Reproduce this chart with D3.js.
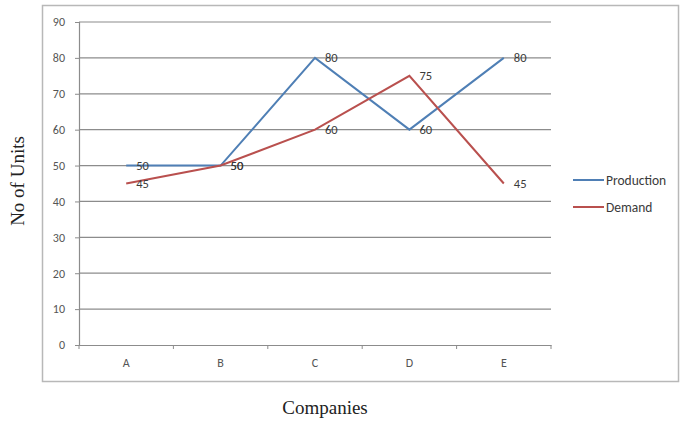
<!DOCTYPE html>
<html lang="en">
<head>
	<meta charset="UTF-8"/>
	<title>Production vs Demand</title>
	<script src="https://d3js.org/d3.v7.min.js"></script>
	<style>
		body { margin: 0; background: #fff; }
		text { font-family: Calibri, Carlito, "Open Sans", sans-serif; }
	</style>
</head>
<body>
	<script>
		var w = 680;
		var h = 423;

		// chart data
		var companies = ["A", "B", "C", "D", "E"];
		var production = [50, 50, 80, 60, 80];
		var demand = [45, 50, 60, 75, 45];
		var yTicks = [0, 10, 20, 30, 40, 50, 60, 70, 80, 90];
		var seriesNames = ["Production", "Demand"];
		var seriesColors = ["#4f7fb5", "#b9504e"];

		// plot area (note: "top" is a reserved window global)
		var plotLeft = 79, plotRight = 551, plotTop = 22, plotBottom = 345;

		var xScale = d3.scaleBand()
			.domain(companies)
			.range([plotLeft, plotRight]);

		var yScale = d3.scaleLinear()
			.domain([0, 90])
			.range([plotBottom, plotTop]);

		var svg = d3.select("body")
			.append("svg")
			.attr("width", w)
			.attr("height", h);

		// outer chart frame
		svg.append("rect")
			.attr("x", 42.5)
			.attr("y", 5.5)
			.attr("width", 636)
			.attr("height", 376)
			.attr("fill", "#fff")
			.attr("stroke", "#b8b8b8")
			.attr("stroke-width", 1.5);

		// gridlines
		svg.append("g")
			.selectAll("line")
			.data(yTicks.filter(function(d){ return d > 0; }))
			.enter()
			.append("line")
			.attr("x1", plotLeft)
			.attr("x2", plotRight)
			.attr("y1", function(d){ return yScale(d); })
			.attr("y2", function(d){ return yScale(d); })
			.attr("stroke", "#8c8c8c")
			.attr("stroke-width", 1.2);

		// y axis
		var yAxis = d3.axisLeft(yScale)
			.tickValues(yTicks)
			.tickSize(4)
			.tickPadding(10);

		var gy = svg.append("g")
			.attr("transform", "translate(" + plotLeft + ",0)")
			.call(yAxis);
		gy.select(".domain").attr("stroke", "#8c8c8c").attr("stroke-width", 1.2);
		gy.selectAll(".tick line").attr("stroke", "#8c8c8c");
		gy.selectAll("text").attr("fill", "#555").attr("font-size", 12);

		// x axis, ticks between categories
		var xAxis = d3.axisBottom(xScale)
			.tickSize(0)
			.tickPadding(13);

		var gx = svg.append("g")
			.attr("transform", "translate(0," + plotBottom + ")")
			.call(xAxis);
		gx.select(".domain").attr("stroke", "#8c8c8c").attr("stroke-width", 1.2);
		gx.selectAll("text").attr("fill", "#555").attr("font-size", 12);

		gx.selectAll(".sep")
			.data(companies.concat(["end"]))
			.enter()
			.append("line")
			.attr("x1", function(d, i){ return plotLeft + i * xScale.bandwidth(); })
			.attr("x2", function(d, i){ return plotLeft + i * xScale.bandwidth(); })
			.attr("y1", 0)
			.attr("y2", 4)
			.attr("stroke", "#8c8c8c");

		// lines
		var line = d3.line()
			.x(function(d, i){ return xScale(companies[i]) + xScale.bandwidth() / 2; })
			.y(function(d){ return yScale(d); });

		var allSeries = [production, demand];

		svg.selectAll(".series")
			.data(allSeries)
			.enter()
			.append("path")
			.attr("class", "series")
			.attr("d", line)
			.attr("fill", "none")
			.attr("stroke", function(d, i){ return seriesColors[i]; })
			.attr("stroke-width", 2);

		// data labels to the right of points
		allSeries.forEach(function(s, k){
			svg.append("g")
				.selectAll("text")
				.data(s)
				.enter()
				.append("text")
				.attr("x", function(d, i){ return xScale(companies[i]) + xScale.bandwidth() / 2 + 10; })
				.attr("y", function(d){ return yScale(d); })
				.attr("dy", "0.35em")
				.attr("font-size", 12.5)
				.attr("fill", "#3a3a3a")
				.text(function(d){ return d; });
		});

		// legend
		var legend = svg.append("g")
			.selectAll("g")
			.data(seriesNames)
			.enter()
			.append("g")
			.attr("transform", function(d, i){ return "translate(573," + (180 + i * 27) + ")"; });

		legend.append("line")
			.attr("x1", 0)
			.attr("x2", 31)
			.attr("stroke", function(d, i){ return seriesColors[i]; })
			.attr("stroke-width", 2);

		legend.append("text")
			.attr("x", 33)
			.attr("dy", "0.35em")
			.attr("font-size", 13.5)
			.attr("fill", "#3a3a3a")
			.text(function(d){ return d; });

		// axis titles
		svg.append("text")
			.attr("text-anchor", "middle")
			.attr("x", 325)
			.attr("y", 414)
			.style("font-family", "'Liberation Serif', 'Times New Roman', serif")
			.attr("font-size", 19)
			.attr("fill", "#222")
			.text("Companies");

		svg.append("text")
			.attr("text-anchor", "middle")
			.attr("transform", "rotate(-90)")
			.attr("x", -181)
			.attr("y", 24)
			.style("font-family", "'Liberation Serif', 'Times New Roman', serif")
			.attr("font-size", 19)
			.attr("fill", "#222")
			.text("No of Units");
	</script>
</body>
</html>
